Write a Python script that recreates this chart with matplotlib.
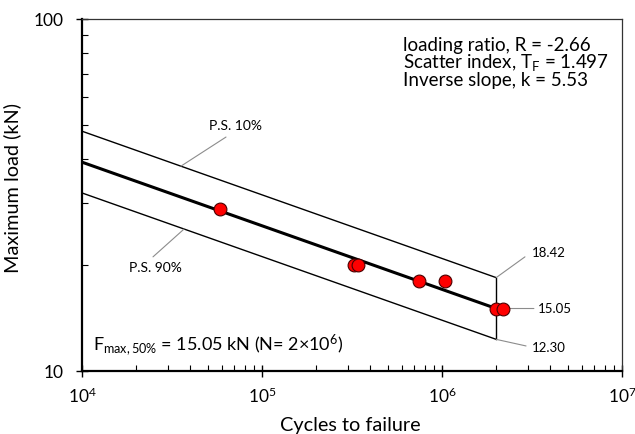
import numpy as np
import matplotlib
matplotlib.use('Agg')
import matplotlib.pyplot as plt
from matplotlib.ticker import LogLocator, NullFormatter, FixedLocator, FixedFormatter

plt.rcParams['font.family'] = ['Lato', 'DejaVu Sans']
plt.rcParams['mathtext.fontset'] = 'custom'
plt.rcParams['mathtext.rm'] = 'Lato'
plt.rcParams['mathtext.it'] = 'Lato:italic'
plt.rcParams['mathtext.bf'] = 'Lato:bold'

# test results
cycles = [58400, 324000, 341000, 745000, 1040000, 2000000, 2180000]
load = [28.8, 20.0, 20.0, 18.0, 18.0, 15.05, 15.05]

# fitted S-N curve and scatter band (P.S. 50%, 10%, 90%)
fit_N = [1e4, 2e6]
f50 = [39.2, 15.05]
f10 = [48.0, 18.42]
f90 = [32.05, 12.30]

y_ticks = [10, 100]
y_ticklabels = ['10', '100']

info_lines = ['loading ratio, R = -2.66',
              r'Scatter index, T$_{\mathregular{F}}$ = 1.497',
              'Inverse slope, k = 5.53']

fig = plt.figure(figsize=(6.35, 4.34), dpi=100)
ax = fig.add_axes([82/635, 1-371/434, 540/635, 352/434])

ax.plot(fit_N, f10, color='black', lw=1.0, zorder=2)
ax.plot(fit_N, f90, color='black', lw=1.0, zorder=2)
ax.plot([fit_N[1], fit_N[1]], [f90[1], f10[1]], color='black', lw=1.0, zorder=2)
ax.plot(fit_N, f50, color='black', lw=2.2, zorder=3)
ax.scatter(cycles, load, s=85, color='#FF0000', edgecolor='#4a0000', linewidth=0.8, zorder=4)

ax.set_xscale('log')
ax.set_yscale('log')
ax.set_xlim(1e4, 1e7)
ax.set_ylim(10, 100)

# leader lines + labels
lead = dict(arrowstyle='-', color='#8c8c8c', lw=0.8, shrinkA=0, shrinkB=0)
ax.annotate('', xy=(35480, 38.2), xytext=(63100, 46.2), arrowprops=lead)
ax.text(71700, 49.7, 'P.S. 10%', fontsize=10, ha='center', va='center')
ax.annotate('', xy=(36860, 25.3), xytext=(24800, 21.1), arrowprops=lead)
ax.text(25500, 19.6, 'P.S. 90%', fontsize=10, ha='center', va='center')
ax.annotate('', xy=(fit_N[1], f10[1]), xytext=(2.89e6, 21.1), arrowprops=lead)
ax.text(3.16e6, 21.6, '%.2f' % f10[1], fontsize=9.5, ha='left', va='center')
ax.annotate('', xy=(2.18e6, f50[1]), xytext=(3.24e6, f50[1]), arrowprops=lead)
ax.text(3.41e6, f50[1], '%.2f' % f50[1], fontsize=9.5, ha='left', va='center')
ax.annotate('', xy=(fit_N[1], f90[1]), xytext=(2.93e6, 11.78), arrowprops=lead)
ax.text(3.16e6, 11.6, '%.2f' % f90[1], fontsize=9.5, ha='left', va='center')

for i, s in enumerate(info_lines):
    ax.text(0.594, 0.926 - i*0.05, s, transform=ax.transAxes, fontsize=13.5, ha='left', va='center')
ax.text(0.02, 0.074, r'F$_{\mathregular{max,50\%}}$ = 15.05 kN (N= 2×10$^{\mathregular{6}}$)',
        transform=ax.transAxes, fontsize=13, ha='left', va='center')

ax.set_xlabel('Cycles to failure', fontsize=14.3)
ax.set_ylabel('Maximum load (kN)', fontsize=14.3)
ax.xaxis.set_label_coords(0.496, -0.13)
ax.yaxis.set_label_coords(-0.113, 0.52)

ax.xaxis.set_minor_locator(LogLocator(base=10, subs=np.arange(2, 10)))
ax.yaxis.set_minor_locator(LogLocator(base=10, subs=np.arange(2, 10)))
ax.yaxis.set_major_locator(FixedLocator(y_ticks))
ax.yaxis.set_major_formatter(FixedFormatter(y_ticklabels))
ax.xaxis.set_minor_formatter(NullFormatter())
ax.yaxis.set_minor_formatter(NullFormatter())
ax.tick_params(which='major', direction='inout', length=8, width=1.0, labelsize=12.5, color='black')
ax.tick_params(which='minor', direction='in', length=4, width=0.8, color='black')
ax.tick_params(axis='x', which='major', pad=7)
ax.tick_params(axis='y', which='major', pad=9)

for side in ['left', 'bottom']:
    ax.spines[side].set_linewidth(1.6)
for side in ['top', 'right']:
    ax.spines[side].set_linewidth(0.9)
    ax.spines[side].set_color('#333333')

fig.savefig('out.png', dpi=100)
